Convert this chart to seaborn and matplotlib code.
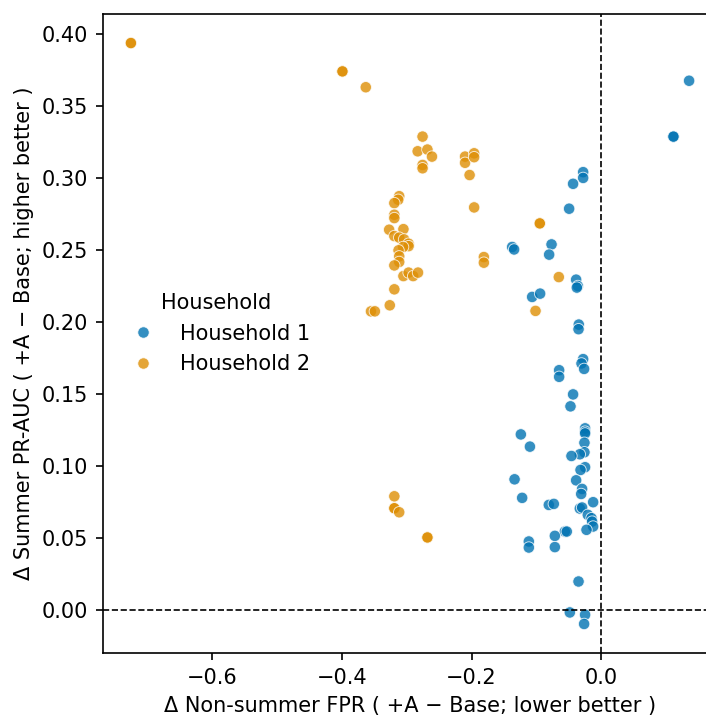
import matplotlib
matplotlib.use("Agg")
import matplotlib.pyplot as plt
import seaborn as sns
import pandas as pd

# Household 1 (blue)
h1_x = [0.1353, 0.1112, 0.1112, -0.028, -0.028, -0.0435, -0.0496, -0.1374, -0.1344,
        -0.0767, -0.0804, -0.0388, -0.0362, -0.0377, -0.1066, -0.0943, -0.0347, -0.0351,
        -0.028, -0.0305, -0.0265, -0.065, -0.065, -0.0435, -0.0475, -0.025, -0.025, -0.025,
        -0.026, -0.026, -0.0331, -0.046, -0.124, -0.110, -0.025, -0.032, -0.0388, -0.1337,
        -0.122, -0.0296, -0.031, -0.0126, -0.0809, -0.0732, -0.0331, -0.0296, -0.0208,
        -0.0151, -0.0142, -0.0126, -0.0228, -0.0562, -0.0532, -0.0716, -0.0716, -0.1117,
        -0.1117, -0.0351, -0.0485, -0.025, -0.0265]
h1_y = [0.3675, 0.3287, 0.3287, 0.304, 0.300, 0.2959, 0.2786, 0.252, 0.2503,
        0.2538, 0.2467, 0.2293, 0.2249, 0.2238, 0.2173, 0.2196, 0.1981, 0.1949,
        0.1741, 0.1711, 0.1673, 0.1664, 0.1618, 0.1496, 0.1413, 0.126, 0.1237, 0.1225,
        0.116, 0.1094, 0.108, 0.1068, 0.1218, 0.1133, 0.099, 0.0971, 0.0899, 0.0906,
        0.0777, 0.0839, 0.0804, 0.0747, 0.0728, 0.0735, 0.0703, 0.071, 0.0659,
        0.0636, 0.0612, 0.0578, 0.0555, 0.0543, 0.0543, 0.0513, 0.0435, 0.0474,
        0.0432, 0.0196, -0.0019, -0.0035, -0.0099]

# Household 2 (orange)
h2_x = [-0.725, -0.725, -0.399, -0.399, -0.363, -0.2755, -0.283, -0.268, -0.261, -0.2755,
        -0.2755, -0.210, -0.210, -0.196, -0.196, -0.203, -0.196, -0.0948, -0.0948, -0.181,
        -0.181, -0.0655, -0.1014, -0.355, -0.349, -0.326, -0.319, -0.3115, -0.313, -0.319,
        -0.319, -0.319, -0.327, -0.305, -0.319, -0.3115, -0.304, -0.297, -0.297, -0.3055,
        -0.3125, -0.3115, -0.3115, -0.319, -0.305, -0.297, -0.290, -0.2825, -0.319, -0.319,
        -0.319, -0.3115, -0.268, -0.268]
h2_y = [0.3937, 0.3937, 0.374, 0.374, 0.363, 0.3287, 0.3185, 0.3197, 0.3148, 0.309,
        0.3067, 0.3148, 0.3105, 0.3171, 0.3144, 0.302, 0.2795, 0.2684, 0.2684, 0.245,
        0.2411, 0.2311, 0.2076, 0.2073, 0.2073, 0.2115, 0.2226, 0.2873, 0.2848, 0.2825,
        0.2744, 0.2721, 0.264, 0.2644, 0.2596, 0.2585, 0.2573, 0.2543, 0.2526, 0.252,
        0.2497, 0.2455, 0.2416, 0.2392, 0.2318, 0.2342, 0.2318, 0.2342, 0.0788, 0.0705,
        0.0705, 0.0677, 0.0502, 0.0502]

households = ["Household 1", "Household 2"]

df = pd.DataFrame({
    "x": h1_x + h2_x,
    "y": h1_y + h2_y,
    "Household": [households[0]] * len(h1_x) + [households[1]] * len(h2_x),
})

dpi = 150
fig = plt.figure(figsize=(707 / dpi, 715 / dpi), dpi=dpi)
ax = fig.add_axes([103 / 707, 62 / 715, 614 / 707, 639 / 715])

palette = sns.color_palette("colorblind", 2)
sns.scatterplot(data=df, x="x", y="y", hue="Household", hue_order=households,
                palette=palette, alpha=0.8, s=30, ax=ax)

ax.axvline(0, color="black", linestyle="--", linewidth=0.8)
ax.axhline(0, color="black", linestyle="--", linewidth=0.8)

ax.set_xlabel("Δ Non-summer FPR ( +A − Base; lower better )")
ax.set_ylabel("Δ Summer PR-AUC ( +A − Base; higher better )")
ax.yaxis.set_major_formatter(matplotlib.ticker.FormatStrFormatter("%.2f"))

ax.legend(title="Household", loc="center left", frameon=False)

fig.savefig("out.png", dpi=dpi)
